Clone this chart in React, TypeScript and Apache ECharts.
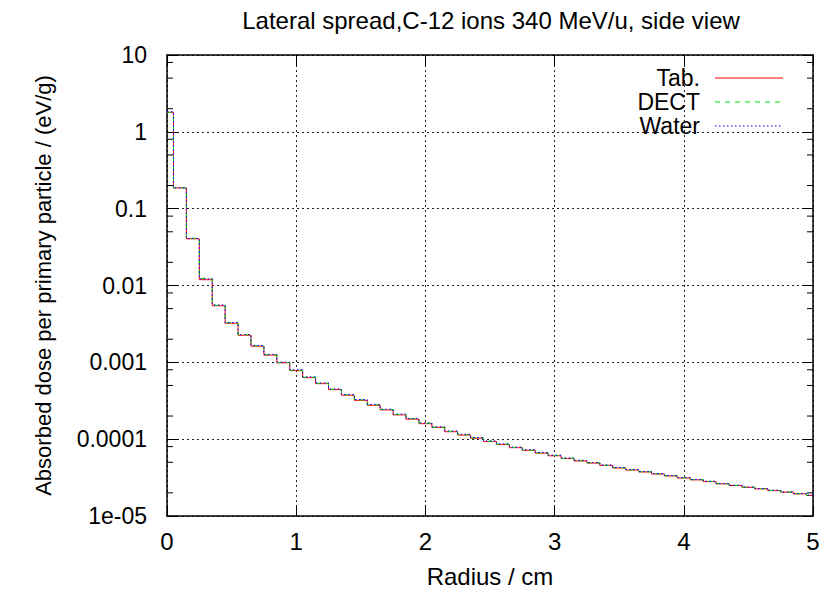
import React, { useEffect, useRef } from "react";
import * as echarts from "echarts";

const radius = [
  0, 0.1, 0.2, 0.3, 0.4, 0.5, 0.6, 0.7, 0.8, 0.9,
  1.0, 1.1, 1.2, 1.3, 1.4, 1.5, 1.6, 1.7, 1.8, 1.9,
  2.0, 2.1, 2.2, 2.3, 2.4, 2.5, 2.6, 2.7, 2.8, 2.9,
  3.0, 3.1, 3.2, 3.3, 3.4, 3.5, 3.6, 3.7, 3.8, 3.9,
  4.0, 4.1, 4.2, 4.3, 4.4, 4.5, 4.6, 4.7, 4.8, 4.9, 5.0,
];

const tabDose = [
  1.79, 0.186, 0.0405, 0.0119, 0.00545, 0.00322, 0.00225, 0.00162, 0.00124, 0.000985,
  0.00078, 0.000632, 0.000528, 0.000441, 0.000373, 0.00032, 0.000276, 0.00024, 0.000207, 0.000182,
  0.000159, 0.000142, 0.000125, 0.000113, 0.000103, 9.3e-5, 8.5e-5, 7.75e-5, 7.15e-5, 6.57e-5,
  6.08e-5, 5.6e-5, 5.2e-5, 4.88e-5, 4.55e-5, 4.21e-5, 3.96e-5, 3.74e-5, 3.52e-5, 3.32e-5,
  3.12e-5, 2.95e-5, 2.8e-5, 2.62e-5, 2.49e-5, 2.36e-5, 2.25e-5, 2.14e-5, 2.04e-5, 1.94e-5, 1.85e-5,
];

const dectDose = [
  1.8, 0.1865, 0.0412, 0.0124, 0.00552, 0.00326, 0.00228, 0.00164, 0.001255, 0.000995,
  0.00079, 0.00064, 0.000534, 0.000446, 0.000377, 0.000324, 0.000279, 0.000243, 0.000209, 0.000184,
  0.000161, 0.000143, 0.000126, 0.000114, 0.000104, 9.4e-5, 8.6e-5, 7.8e-5, 7.2e-5, 6.62e-5,
  6.12e-5, 5.64e-5, 5.24e-5, 4.92e-5, 4.58e-5, 4.24e-5, 3.99e-5, 3.76e-5, 3.54e-5, 3.34e-5,
  3.14e-5, 2.97e-5, 2.82e-5, 2.63e-5, 2.5e-5, 2.37e-5, 2.26e-5, 2.15e-5, 2.05e-5, 1.95e-5, 1.86e-5,
];

const waterDose = [
  1.83, 0.187, 0.041, 0.0122, 0.0056, 0.0033, 0.0023, 0.00166, 0.00127, 0.00101,
  0.0008, 0.000648, 0.000541, 0.000452, 0.000382, 0.000328, 0.000283, 0.000246, 0.000212, 0.000186,
  0.000163, 0.000145, 0.000128, 0.000116, 0.000105, 9.5e-5, 8.7e-5, 7.9e-5, 7.3e-5, 6.7e-5,
  6.2e-5, 5.7e-5, 5.3e-5, 4.97e-5, 4.63e-5, 4.28e-5, 4.03e-5, 3.8e-5, 3.57e-5, 3.37e-5,
  3.17e-5, 2.99e-5, 2.84e-5, 2.65e-5, 2.52e-5, 2.39e-5, 2.28e-5, 2.17e-5, 2.06e-5, 1.96e-5, 1.87e-5,
];

const seriesNames = ["Tab.", "DECT", "Water"];
const yTickLabels = ["1e-05", "0.0001", "0.001", "0.01", "0.1", "1", "10"];
const yMinorTicks = [
  2e-5, 5e-5, 8e-5, 2e-4, 5e-4, 8e-4, 2e-3, 5e-3, 8e-3,
  0.02, 0.05, 0.08, 0.2, 0.5, 0.8, 2, 5, 8,
];

const FONT = "'Liberation Sans', Arial, Helvetica, sans-serif";

export default function App() {
  const ref = useRef<HTMLDivElement>(null);
  useEffect(() => {
    if (!ref.current) return;
    const chart = echarts.init(ref.current, undefined, { renderer: "svg" });
    const pair = (ys: number[]) => radius.map((r, i) => [r, ys[i]]);
    const gridLine = { show: true, lineStyle: { color: "#222", width: 1, type: [2, 3] as any } };
    const axisLine = { show: true, onZero: false, lineStyle: { color: "#000", width: 1.5 } };
    const tick = { show: true, inside: true, length: 11, lineStyle: { color: "#000", width: 1 } };
    const colors = ["#ff0000", "#00e000", "#0000ff"];
    const dashes: any[] = ["solid", [5, 5], [1.5, 2.5]];
    const datas = [tabDose, dectDose, waterDose];
    const legendX = 700;
    const legendYs = [78, 102, 126];
    const legendGraphics: any[] = [];
    seriesNames.forEach((n, i) => {
      legendGraphics.push({
        type: "text",
        x: legendX,
        y: legendYs[i],
        style: { text: n, fontSize: 23, lineHeight: 23, fontFamily: FONT, fill: "#000", align: "right", verticalAlign: "middle" },
      });
      legendGraphics.push({
        type: "line",
        shape: { x1: 715, y1: legendYs[i], x2: 783, y2: legendYs[i] },
        style: { stroke: colors[i], lineWidth: 1, lineDash: dashes[i] === "solid" ? null : dashes[i] },
      });
    });
    chart.setOption({
      animation: false,
      backgroundColor: "#fff",
      title: {
        text: "Lateral spread,C-12 ions 340 MeV/u, side view",
        left: 486,
        top: 3,
        textAlign: "center",
        textStyle: { fontSize: 24, fontWeight: "normal", fontFamily: FONT, color: "#000" },
      },
      grid: { left: 167, right: 13, top: 55, bottom: 77, containLabel: false, outerBoundsMode: "none" } as any,
      xAxis: [
        {
          type: "value",
          min: 0,
          max: 5,
          interval: 1,
          name: "Radius / cm",
          nameLocation: "middle",
          nameGap: 48,
          nameTextStyle: { fontSize: 24, fontFamily: FONT, color: "#000" },
          axisLine,
          axisTick: tick,
          axisLabel: { fontSize: 24, fontFamily: FONT, color: "#000", margin: 13 },
          splitLine: gridLine,
        },
        {
          type: "value",
          position: "top",
          min: 0,
          max: 5,
          interval: 1,
          axisLine,
          axisTick: tick,
          axisLabel: { show: false },
          splitLine: { show: false },
        },
      ],
      yAxis: [
        {
          type: "log",
          logBase: 10,
          min: 1e-5,
          max: 10,
          interval: 1,
          name: "Absorbed dose per primary particle / (eV/g)",
          nameLocation: "middle",
          nameGap: 113,
          nameTextStyle: { fontSize: 22, fontFamily: FONT, color: "#000" },
          axisLine,
          axisTick: tick,
          axisLabel: {
            fontSize: 23,
            fontFamily: FONT,
            color: "#000",
            margin: 20,
            formatter: (v: number) => yTickLabels[Math.round(Math.log10(v)) + 5] ?? "",
          },
          splitLine: gridLine,
        },
        {
          type: "log",
          logBase: 10,
          min: 1e-5,
          max: 10,
          interval: 1,
          position: "right",
          axisLine,
          axisTick: tick,
          axisLabel: { show: false },
          splitLine: { show: false },
        },
      ],
      series: [
        ...datas.map((d, i) => ({
          name: seriesNames[i],
          type: "line",
          step: "middle",
          data: pair(d),
          showSymbol: false,
          symbol: "none",
          clip: false,
          lineStyle: { color: colors[i], width: 1, type: dashes[i] },
          z: 3 + i,
        })),
        {
          type: "custom",
          silent: true,
          clip: false,
          data: yMinorTicks.map((v) => [0, v]),
          renderItem: (params: any, api: any) => {
            const v = api.value(1);
            const pl = api.coord([0, v]);
            const pr = api.coord([5, v]);
            return {
              type: "group",
              children: [
                { type: "line", shape: { x1: pl[0], y1: pl[1], x2: pl[0] + 6, y2: pl[1] }, style: { stroke: "#000", lineWidth: 1 } },
                { type: "line", shape: { x1: pr[0] - 6, y1: pr[1], x2: pr[0], y2: pr[1] }, style: { stroke: "#000", lineWidth: 1 } },
              ],
            };
          },
          z: 10,
        },
      ],
      graphic: legendGraphics,
    });
    return () => chart.dispose();
  }, []);
  return <div ref={ref} style={{ position: "fixed", left: 0, top: 0, width: 826, height: 593 }} />;
}
